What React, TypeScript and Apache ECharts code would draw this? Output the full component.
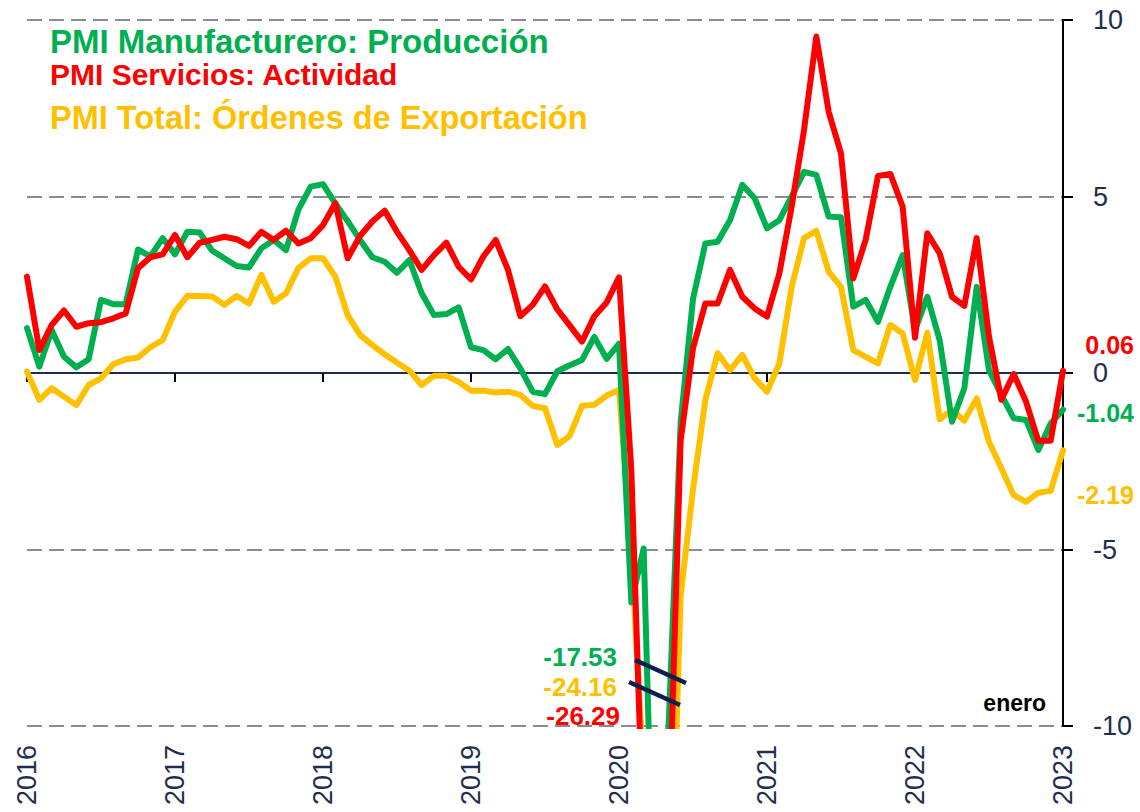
import React, { useEffect, useRef } from 'react';
import * as echarts from 'echarts';

// Year ticks (Jan of each year); monthly categories Jan 2016 .. Jan 2023
const years = ['2016', '2017', '2018', '2019', '2020', '2021', '2022', '2023'];
const monthNums = ['01', '02', '03', '04', '05', '06', '07', '08', '09', '10', '11', '12'];
const months: string[] = [];
years.forEach((y, k) => {
  if (k < years.length - 1) monthNums.forEach((m) => months.push(`${y}-${m}`));
  else months.push(`${y}-01`);
});

// PMI Manufacturero: Producción (desviación respecto a 50)
const manufacturing = [
  1.27, 0.18, 1.22, 0.46, 0.16, 0.39, 2.07, 1.95, 1.95, 3.5, 3.3, 3.82,
  3.36, 4.0, 3.98, 3.47, 3.25, 3.03, 2.99, 3.53, 3.77, 3.48, 4.62, 5.28,
  5.35, 4.8, 4.3, 3.77, 3.28, 3.15, 2.84, 3.2, 2.26, 1.64, 1.67, 1.86,
  0.73, 0.65, 0.39, 0.68, 0.13, -0.53, -0.6, 0.05, 0.22, 0.37, 1.02, 0.4,
  0.83, -6.5, -4.97, -17.53, -10.2, -1.4, 2.1, 3.67, 3.72, 4.33, 5.33, 4.95,
  4.1, 4.33, 5.0, 5.7, 5.61, 4.43, 4.41, 1.88, 2.07, 1.45, 2.44, 3.34,
  1.22, 2.16, 0.93, -1.38, -0.43, 2.44, 0.08, -0.62, -1.28, -1.33, -2.18, -1.43,
  -1.04,
];

// PMI Servicios: Actividad
const services = [
  2.73, 0.65, 1.36, 1.77, 1.31, 1.41, 1.44, 1.55, 1.69, 2.97, 3.28, 3.36,
  3.91, 3.28, 3.69, 3.77, 3.86, 3.79, 3.6, 4.0, 3.77, 4.03, 3.67, 3.82,
  4.19, 4.81, 3.25, 3.88, 4.29, 4.6, 4.0, 3.48, 2.92, 3.34, 3.69, 3.01,
  2.65, 3.3, 3.77, 2.92, 1.61, 1.93, 2.45, 1.8, 1.35, 0.89, 1.61, 2.0,
  2.71, -2.75, -13.5, -26.29, -13.4, -1.9, 0.7, 1.97, 1.97, 2.92, 2.16, 1.83,
  1.6, 2.82, 4.71, 6.88, 9.53, 7.4, 6.22, 2.68, 3.77, 5.58, 5.64, 4.71,
  1.0, 3.96, 3.39, 2.16, 1.9, 3.82, 1.03, -0.76, -0.03, -0.81, -1.92, -1.92,
  0.06,
];

// PMI Total: Órdenes de Exportación
const exportOrders = [
  0.04, -0.76, -0.43, -0.67, -0.91, -0.34, -0.15, 0.25, 0.39, 0.44, 0.73, 0.93,
  1.74, 2.18, 2.18, 2.17, 1.93, 2.18, 1.97, 2.78, 2.02, 2.26, 2.97, 3.25,
  3.25, 2.73, 1.64, 1.08, 0.79, 0.53, 0.29, 0.07, -0.34, -0.08, -0.08, -0.25,
  -0.5, -0.5, -0.55, -0.53, -0.62, -0.93, -1.0, -2.04, -1.78, -0.93, -0.9, -0.64,
  -0.48, -5.0, -11.5, -24.16, -17.5, -6.3, -3.3, -0.76, 0.56, 0.08, 0.51, -0.15,
  -0.53, 0.27, 2.44, 3.82, 4.03, 2.87, 2.44, 0.65, 0.46, 0.27, 1.36, 1.12,
  -0.2, 1.14, -1.31, -1.05, -1.35, -0.72, -1.95, -2.7, -3.46, -3.65, -3.39, -3.34,
  -2.19,
];

const seriesNames = [
  'PMI Manufacturero: Producción',
  'PMI Servicios: Actividad',
  'PMI Total: Órdenes de Exportación',
];
const lastLabels = ['-1.04', '0.06', '-2.19'];
const minLabels = ['-17.53', '-26.29', '-24.16'];
const monthNote = 'enero';

const GREEN = '#00B050';
const RED = '#FF0000';
const YELLOW = '#FFC000';
const NAVY = '#1F2D4E';
const FONT = '"Liberation Sans", Arial, sans-serif';

export default function App() {
  const ref = useRef<HTMLDivElement>(null);

  useEffect(() => {
    if (!ref.current) return;
    const chart = echarts.init(ref.current, undefined, { renderer: 'svg' });

    const lineSeries = (name: string, data: number[], color: string, z: number) => ({
      type: 'line',
      name,
      data,
      xAxisIndex: 0,
      yAxisIndex: 0,
      symbol: 'none',
      clip: true,
      z,
      itemStyle: { color },
      lineStyle: { color, width: 6, join: 'round', cap: 'round' },
    });

    const txt = (text: string, x: number, y: number, color: string, size: number, align = 'left') => ({
      type: 'text',
      x,
      y,
      z: 50,
      style: {
        text,
        fill: color,
        fontSize: size,
        fontWeight: 'bold',
        fontFamily: FONT,
        align,
        verticalAlign: 'middle',
      },
    });

    chart.setOption({
      animation: false,
      textStyle: { fontFamily: FONT },
      grid: { left: 27, right: 77, top: 20, bottom: 86, containLabel: false },
      xAxis: [
        {
          type: 'category',
          data: months,
          boundaryGap: false,
          position: 'bottom',
          axisLine: { show: false, onZero: false },
          axisTick: { show: false },
          splitLine: { show: false },
          axisLabel: {
            interval: (i: number) => i % 12 === 0,
            rotate: 90,
            margin: 19,
            fontSize: 27,
            color: NAVY,
            fontFamily: FONT,
            formatter: (v: string) => v.slice(0, 4),
          },
        },
        {
          type: 'category',
          data: months,
          boundaryGap: false,
          position: 'bottom',
          axisLine: { show: true, onZero: true, lineStyle: { color: NAVY, width: 2 } },
          axisTick: {
            show: true,
            interval: (i: number) => i % 12 === 0,
            length: 9,
            lineStyle: { color: '#000', width: 2 },
          },
          axisLabel: { show: false },
          splitLine: { show: false },
        },
      ],
      yAxis: {
        type: 'value',
        position: 'right',
        min: -10,
        max: 10,
        interval: 5,
        axisLine: { show: true, lineStyle: { color: '#000', width: 2 } },
        axisTick: { show: true, length: 10, lineStyle: { color: '#000', width: 2 } },
        axisLabel: { margin: 30, fontSize: 27, color: NAVY, fontFamily: FONT },
        splitLine: { show: true, lineStyle: { color: '#8C8C8C', width: 2, type: [15, 7] } },
      },
      series: [
        lineSeries(seriesNames[2], exportOrders, YELLOW, 2),
        lineSeries(seriesNames[0], manufacturing, GREEN, 3),
        lineSeries(seriesNames[1], services, RED, 4),
      ],
      graphic: [
        txt(seriesNames[0], 50, 41, GREEN, 33),
        txt(seriesNames[1], 50, 74, RED, 30),
        txt(seriesNames[2], 50, 118, YELLOW, 32.5),
        txt(lastLabels[1], 1134, 345, RED, 25, 'right'),
        txt(lastLabels[0], 1134, 413, GREEN, 25, 'right'),
        txt(lastLabels[2], 1134, 495, YELLOW, 25, 'right'),
        txt(minLabels[0], 617, 657, GREEN, 26, 'right'),
        txt(minLabels[2], 617, 687, YELLOW, 26, 'right'),
        txt(minLabels[1], 620, 716, RED, 26, 'right'),
        {
          type: 'text',
          x: 1046,
          y: 703,
          z: 50,
          style: {
            text: monthNote,
            fill: '#000',
            fontSize: 23,
            fontWeight: 'bold',
            fontFamily: FONT,
            align: 'right',
            verticalAlign: 'middle',
          },
        },
        {
          type: 'line',
          z: 60,
          shape: { x1: 635, y1: 660, x2: 686, y2: 683 },
          style: { stroke: '#0D1F4F', lineWidth: 4.5 },
        },
        {
          type: 'line',
          z: 60,
          shape: { x1: 629, y1: 682, x2: 680, y2: 705 },
          style: { stroke: '#0D1F4F', lineWidth: 4.5 },
        },
      ],
    });

    return () => chart.dispose();
  }, []);

  return (
    <div
      ref={ref}
      style={{ position: 'fixed', left: 0, top: 0, width: 1140, height: 812, background: '#fff' }}
    />
  );
}
